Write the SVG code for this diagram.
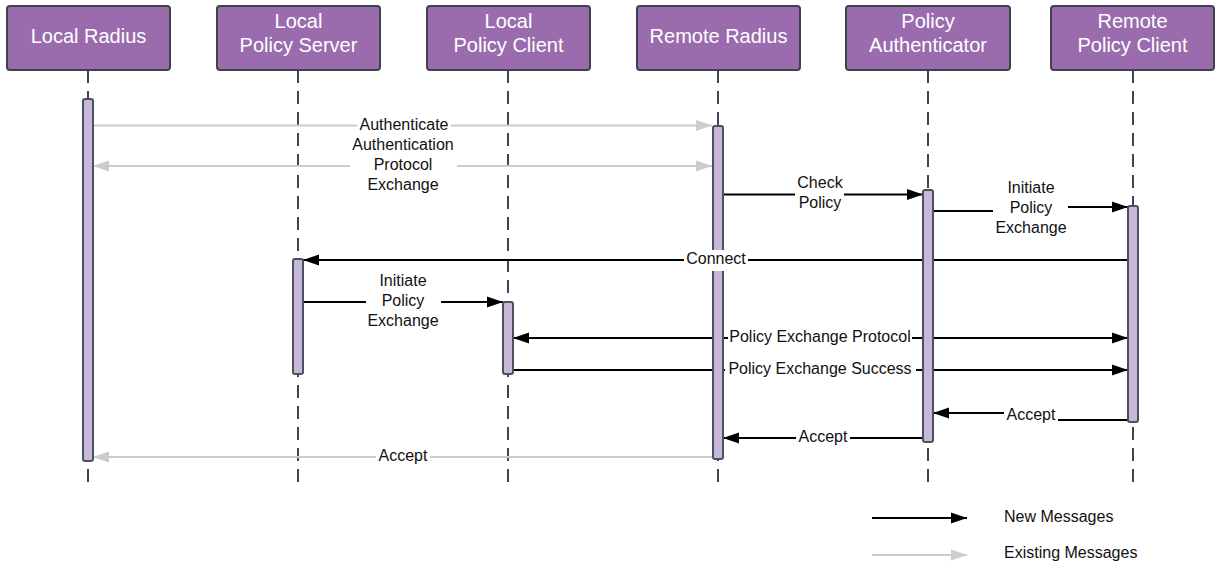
<svg xmlns="http://www.w3.org/2000/svg" width="1215" height="567" viewBox="0 0 1215 567">
<style>
.hdr{fill:#9a6cae;stroke:#3c434d;stroke-width:2}
.ht{font-family:"Liberation Sans",Arial,sans-serif;font-size:20px;fill:#ffffff;text-anchor:middle}
.life{stroke:#3c4550;stroke-width:2;stroke-dasharray:13 8;fill:none}
.bar{fill:#c9b7da;stroke:#4a5260;stroke-width:2}
.blk{stroke:#000;stroke-width:2;fill:none}
.gry{stroke:#cccccc;stroke-width:2;fill:none}
.lb{font-family:"Liberation Sans",Arial,sans-serif;font-size:16px;fill:#111;text-anchor:middle}
.lg{font-family:"Liberation Sans",Arial,sans-serif;font-size:16px;fill:#111}
.bg{fill:#ffffff}
</style>
<defs>
<marker id="ab" markerUnits="userSpaceOnUse" markerWidth="16" markerHeight="12" refX="16" refY="6" orient="auto-start-reverse"><path d="M0,0.5 L16,6 L0,11.5 Z" fill="#000"/></marker>
<marker id="ag" markerUnits="userSpaceOnUse" markerWidth="16" markerHeight="12" refX="16" refY="6" orient="auto-start-reverse"><path d="M0,0.5 L16,6 L0,11.5 Z" fill="#cccccc"/></marker>
</defs>
<rect width="1215" height="567" fill="#ffffff"/>

<g id="local-radius">
<line class="life" x1="88" y1="70" x2="88" y2="490"/>
<rect class="hdr" x="7" y="6" width="163" height="64" rx="3"/>
<text class="ht" x="88.5" y="43">Local Radius</text>
</g>
<g id="local-policy-server">
<line class="life" x1="298" y1="70" x2="298" y2="490"/>
<rect class="hdr" x="217" y="6" width="163" height="64" rx="3"/>
<text class="ht" x="298.5" y="28">Local</text>
<text class="ht" x="298.5" y="52">Policy Server</text>
</g>
<g id="local-policy-client">
<line class="life" x1="508" y1="70" x2="508" y2="490"/>
<rect class="hdr" x="427" y="6" width="163" height="64" rx="3"/>
<text class="ht" x="508.5" y="28">Local</text>
<text class="ht" x="508.5" y="52">Policy Client</text>
</g>
<g id="remote-radius">
<line class="life" x1="718" y1="70" x2="718" y2="490"/>
<rect class="hdr" x="637" y="6" width="163" height="64" rx="3"/>
<text class="ht" x="718.5" y="43">Remote Radius</text>
</g>
<g id="policy-authenticator">
<line class="life" x1="928" y1="70" x2="928" y2="490"/>
<rect class="hdr" x="846" y="6" width="164" height="64" rx="3"/>
<text class="ht" x="928" y="28">Policy</text>
<text class="ht" x="928" y="52">Authenticator</text>
</g>
<g id="remote-policy-client">
<line class="life" x1="1133" y1="70" x2="1133" y2="490"/>
<rect class="hdr" x="1051" y="6" width="163" height="64" rx="3"/>
<text class="ht" x="1132.5" y="28">Remote</text>
<text class="ht" x="1132.5" y="52">Policy Client</text>
</g>

<g id="connectors">
<path class="gry" d="M93,125.5 H712" marker-end="url(#ag)"/>
<path class="gry" d="M93,166 H712" marker-start="url(#ag)" marker-end="url(#ag)"/>
<path class="blk" d="M718,194.5 H923" marker-end="url(#ab)"/>
<path class="blk" d="M928,211 H1030 V207 H1128" marker-end="url(#ab)"/>
<path class="blk" d="M1133,260 H303" marker-end="url(#ab)"/>
<path class="blk" d="M298,302 H503" marker-end="url(#ab)"/>
<path class="blk" d="M513,338 H1128" marker-start="url(#ab)" marker-end="url(#ab)"/>
<path class="blk" d="M508,370 H1128" marker-end="url(#ab)"/>
<path class="blk" d="M1133,420 H1031 V413 H933" marker-end="url(#ab)"/>
<path class="blk" d="M928,438 H723" marker-end="url(#ab)"/>
<path class="gry" d="M718,457 H93" marker-end="url(#ag)"/>
</g>

<g id="activations">
<rect class="bar" x="83" y="99" width="10" height="362" rx="2"/>
<rect class="bar" x="293" y="259" width="10" height="115" rx="2"/>
<rect class="bar" x="503" y="302" width="10" height="72" rx="2"/>
<rect class="bar" x="713" y="126" width="10" height="333" rx="2"/>
<rect class="bar" x="923" y="190" width="10" height="252" rx="2"/>
<rect class="bar" x="1128" y="206" width="10" height="216" rx="2"/>
</g>

<g id="labels">
<rect class="bg" x="357" y="116" width="94" height="18"/>
<text class="lb" x="404" y="130">Authenticate</text>
<rect class="bg" x="350" y="136" width="107" height="58"/>
<text class="lb" x="403" y="150">Authentication</text>
<text class="lb" x="403" y="170">Protocol</text>
<text class="lb" x="403" y="190">Exchange</text>
<rect class="bg" x="795" y="175" width="49" height="37"/>
<text class="lb" x="820" y="188">Check</text>
<text class="lb" x="820" y="208">Policy</text>
<rect class="bg" x="993" y="180" width="75" height="58"/>
<text class="lb" x="1031" y="193">Initiate</text>
<text class="lb" x="1031" y="213">Policy</text>
<text class="lb" x="1031" y="233">Exchange</text>
<rect class="bg" x="684" y="250" width="64" height="21"/>
<text class="lb" x="716" y="264">Connect</text>
<rect class="bg" x="366" y="272" width="75" height="59"/>
<text class="lb" x="403" y="286">Initiate</text>
<text class="lb" x="403" y="306">Policy</text>
<text class="lb" x="403" y="326">Exchange</text>
<rect class="bg" x="728" y="329" width="184" height="17"/>
<text class="lb" x="820" y="342">Policy Exchange Protocol</text>
<rect class="bg" x="725" y="361" width="191" height="17"/>
<text class="lb" x="820" y="374">Policy Exchange Success</text>
<rect class="bg" x="1004" y="405" width="54" height="19"/>
<text class="lb" x="1031" y="420">Accept</text>
<rect class="bg" x="796" y="428" width="54" height="18"/>
<text class="lb" x="823" y="442">Accept</text>
<rect class="bg" x="376" y="446" width="54" height="18"/>
<text class="lb" x="403" y="461">Accept</text>
</g>

<g id="legend">
<path class="blk" d="M872,518 H967" marker-end="url(#ab)"/>
<text class="lg" x="1004" y="522">New Messages</text>
<path class="gry" d="M872,555 H967" marker-end="url(#ag)"/>
<text class="lg" x="1004" y="558">Existing Messages</text>
</g>
</svg>
